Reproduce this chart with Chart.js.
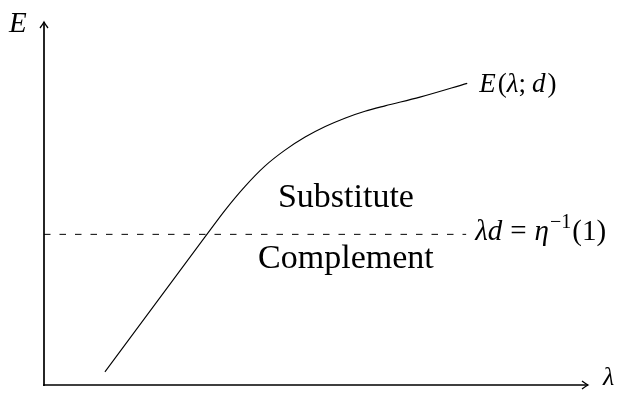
<!DOCTYPE html>
<html>
<head>
<meta charset="utf-8">
<script src="https://cdn.jsdelivr.net/npm/chart.js@4/dist/chart.umd.min.js"></script>
<style>
  html, body { margin: 0; padding: 0; background: #fff; }
  #wrap { width: 619px; height: 396px; }
</style>
</head>
<body>
<div id="wrap"><canvas id="chart"></canvas></div>
<script>
// Curve E(lambda; d) (arbitrary units, axes 0..10)
const curveX = [1.12, 2.04, 2.96, 3.33, 3.70, 4.06, 4.43, 4.80, 5.17, 5.53, 5.90, 6.27, 6.91, 7.78];
const curveY = [0.36, 2.22, 4.08, 4.82, 5.48, 6.03, 6.47, 6.83, 7.12, 7.35, 7.54, 7.69, 7.93, 8.31];

// Threshold line lambda*d = eta^{-1}(1)
const thresholdX = [0, 7.76];
const thresholdY = [4.15, 4.15];

// Region labels (centre x, baseline y)
const regionLabels = ['Substitute', 'Complement'];
const regionX = [5.55, 5.55];
const regionY = [4.90, 3.22];

const SERIF = '"Liberation Serif", "DejaVu Serif", serif';

// Draw the axes with arrowheads plus the math labels
const axesPlugin = {
  id: 'axes',
  afterDatasetsDraw(chart) {
    const { ctx, chartArea: a, scales } = chart;
    const x0 = scales.x.getPixelForValue(0);
    const y0 = scales.y.getPixelForValue(0);
    ctx.save();
    ctx.strokeStyle = '#000';
    ctx.lineWidth = 1.7;
    ctx.beginPath();
    ctx.moveTo(x0, y0 + 1);
    ctx.lineTo(x0, a.top);
    ctx.moveTo(x0 - 1, y0);
    ctx.lineTo(a.right, y0);
    ctx.stroke();

    // arrowheads
    ctx.lineWidth = 1.3;
    ctx.beginPath();
    ctx.moveTo(x0 - 4, a.top + 6);
    ctx.quadraticCurveTo(x0 - 1, a.top + 2, x0, a.top);
    ctx.quadraticCurveTo(x0 + 1, a.top + 2, x0 + 4, a.top + 6);
    ctx.moveTo(a.right - 6, y0 - 4);
    ctx.quadraticCurveTo(a.right - 2, y0 - 1, a.right, y0);
    ctx.quadraticCurveTo(a.right - 2, y0 + 1, a.right - 6, y0 + 4);
    ctx.stroke();

    ctx.fillStyle = '#000';
    ctx.textBaseline = 'alphabetic';
    ctx.textAlign = 'left';

    // axis labels
    ctx.font = 'italic 29px ' + SERIF;
    ctx.fillText('E', 9, 32);
    ctx.font = 'italic 26px ' + SERIF;
    ctx.fillText('λ', 603, 385);

    let x, base;
    const part = (txt, italic, size, dy) => {
      ctx.font = (italic ? 'italic ' : '') + size + 'px ' + SERIF;
      ctx.fillText(txt, x, base + (dy || 0));
      x += ctx.measureText(txt).width;
    };

    // curve label E(λ; d)
    x = scales.x.getPixelForValue(curveX[curveX.length - 1]) + 12;
    base = scales.y.getPixelForValue(curveY[curveY.length - 1]) + 9;
    part('E', true, 27);
    x += 2;
    part('(', false, 27);
    part('λ', true, 27);
    part(';', false, 27);
    x += 6;
    part('d', true, 27);
    x += 2;
    part(')', false, 27);

    // threshold label λd = η^{-1}(1)
    x = scales.x.getPixelForValue(thresholdX[1]) + 9;
    base = scales.y.getPixelForValue(thresholdY[1]) + 6;
    part('λ', true, 29);
    part('d', true, 29);
    x += 8;
    part('=', false, 29);
    x += 8;
    part('η', true, 29);
    x += 1;
    part('−1', false, 20, -12);
    x += 1;
    part('(1)', false, 29);

    // region labels
    ctx.font = '34px ' + SERIF;
    ctx.textAlign = 'center';
    regionLabels.forEach((t, i) => {
      ctx.fillText(t, scales.x.getPixelForValue(regionX[i]), scales.y.getPixelForValue(regionY[i]));
    });
    ctx.restore();
  }
};

new Chart(document.getElementById('chart'), {
  type: 'scatter',
  data: {
    datasets: [
      {
        label: 'E(λ; d)',
        data: curveX.map((v, i) => ({ x: v, y: curveY[i] })),
        showLine: true,
        borderColor: '#000',
        borderWidth: 1.1,
        pointRadius: 0,
        cubicInterpolationMode: 'monotone',
        fill: false
      },
      {
        label: 'λd = η⁻¹(1)',
        data: thresholdX.map((v, i) => ({ x: v, y: thresholdY[i] })),
        showLine: true,
        borderColor: '#000',
        borderWidth: 1,
        borderDash: [6.5, 9],
        pointRadius: 0,
        fill: false
      }
    ]
  },
  options: {
    responsive: true,
    maintainAspectRatio: false,
    animation: false,
    layout: { padding: { left: 44, right: 31, top: 22, bottom: 11 } },
    plugins: {
      legend: { display: false },
      tooltip: { enabled: false }
    },
    scales: {
      x: { type: 'linear', min: 0, max: 10, display: false },
      y: { type: 'linear', min: 0, max: 10, display: false }
    }
  },
  plugins: [axesPlugin]
});
</script>
</body>
</html>
